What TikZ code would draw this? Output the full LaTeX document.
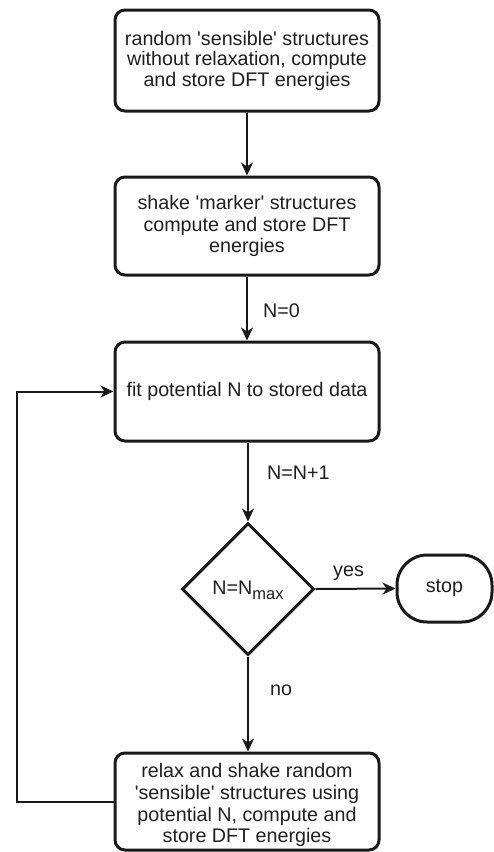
\documentclass[tikz,border=0pt]{standalone}
\usepackage{fontspec}
\setmainfont{Liberation Sans}
\usetikzlibrary{shapes.geometric,arrows.meta}
\newcommand{\sq}{\textquotesingle}
\begin{document}
\begin{tikzpicture}[x=1pt,y=-1pt,
  every node/.style={font=\fontsize{19.7}{20.8}\selectfont, text=black!88},
  procbox/.style={draw=black!90, line width=3pt, rounded corners=10pt, minimum width=264pt, align=center, inner sep=0pt},
  decbox/.style={draw=black!90, line width=3pt, diamond, aspect=1, minimum width=132pt, minimum height=132pt, inner sep=0pt},
  termbox/.style={draw=black!90, line width=3pt, rounded corners=30pt, minimum width=95pt, minimum height=67pt, inner sep=0pt},
  conn/.style={draw=black!90, line width=2pt, -{Stealth[length=13pt,width=12pt,inset=4pt]}},
  lbl/.style={inner sep=0pt}
]
\useasboundingbox (0,0) rectangle (494,852);
\node[procbox, minimum height=101pt, font=\fontsize{19.7}{20.5}\selectfont] (b1) at (247,60.5) {random \sq sensible\sq{} structures\\without relaxation, compute\\and store DFT energies};
\node[procbox, minimum height=98pt, font=\fontsize{19.7}{21.8}\selectfont] (b2) at (247,226) {shake \sq marker\sq{} structures\\compute and store DFT\\energies};
\node[procbox, minimum height=99pt] (b3) at (247,391.5) {fit potential N to stored data};
\node[decbox] (d) at (248,589) {};
\node at (248,590) (dt) {N=N\raisebox{-5pt}{\fontsize{16.5}{16.5}\selectfont max}};
\node[termbox] (s) at (444.5,588.5) {stop};
\node[procbox, minimum height=97pt] (b4) at (247,801.5) {};
\node[align=center, inner sep=0pt, font=\fontsize{19.7}{21.8}\selectfont] (b4t) at (247,805) {relax and shake random\\\sq sensible\sq{} structures using\\potential N, compute and\\store DFT energies};
\coordinate (fb) at (17,801.5);
\draw[conn] (b1) -- (b2);
\draw[conn] (b2) -- (b3);
\draw[conn] (b3.south -| d.north) -- (d.north);
\draw[conn] (d.east) -- (s.west);
\draw[conn] (d.south) -- (b4.north -| d.south);
\draw[conn] (b4.west) -- (fb) |- (b3.west);
\node[lbl, anchor=west] (l0) at (263,311) {N=0};
\node[lbl, anchor=west] (l1) at (267,473) {N=N+1};
\node[lbl, anchor=west] (ly) at (333,573) {yes};
\node[lbl, anchor=west] (ln) at (270,690) {no};
\end{tikzpicture}
\end{document}
